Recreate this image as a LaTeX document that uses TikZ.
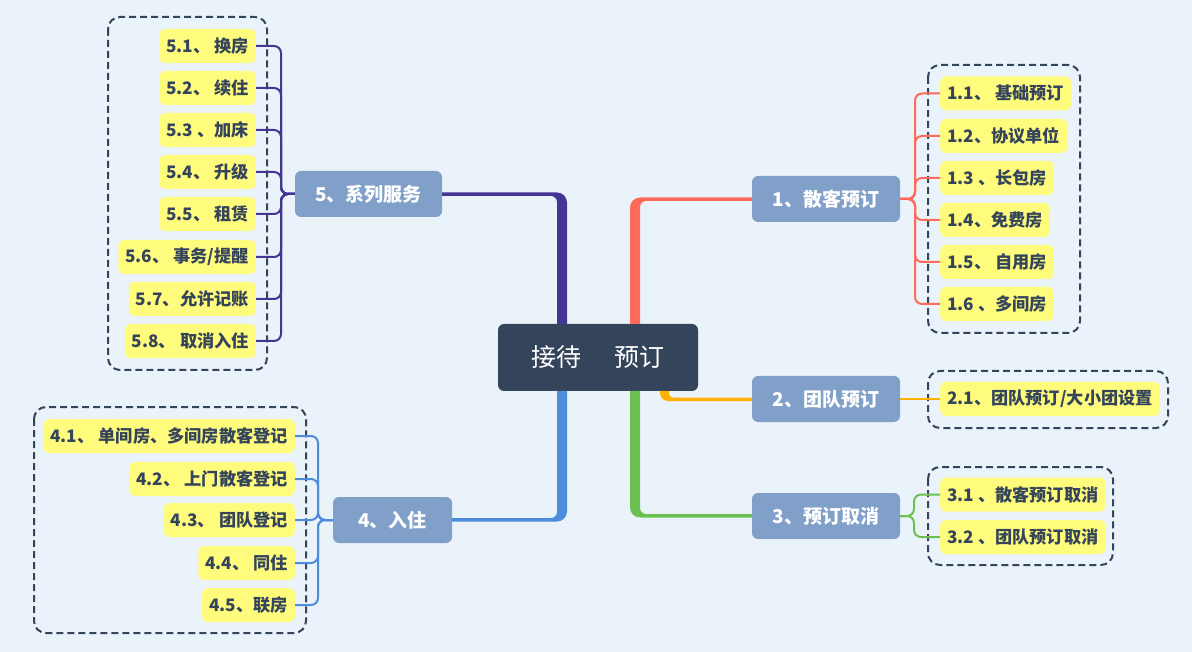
\documentclass[tikz,border=0pt]{standalone}
\usepackage{fontspec}
\setmainfont{Noto Sans CJK SC}
\usetikzlibrary{calc}
\definecolor{bgc}{RGB}{235,243,250}
\definecolor{navy}{RGB}{52,68,90}
\definecolor{mainc}{RGB}{128,160,201}
\definecolor{leafc}{RGB}{255,252,125}
\definecolor{cred}{RGB}{255,106,90}
\definecolor{corange}{RGB}{255,176,0}
\definecolor{cgreen}{RGB}{107,193,79}
\definecolor{cblue}{RGB}{78,141,219}
\definecolor{cpurple}{RGB}{68,53,148}
\tikzset{
  rootbox/.style={fill=navy, rounded corners=6, text=white, minimum width=200, minimum height=67, inner sep=0, font=\fontsize{25}{30}\selectfont},
  mainbox/.style={fill=mainc, rounded corners=6, text=white, minimum height=46, inner sep=0, font=\fontsize{19}{23}\selectfont\bfseries},
  leafbox/.style={fill=leafc, rounded corners=6, text=navy, minimum height=34, inner xsep=7, inner ysep=0, font=\fontsize{17.2}{20}\selectfont\bfseries},
  groupbox/.style={draw=navy, line width=2, dash pattern=on 7 off 4, rounded corners=12},
  sub/.style={line width=2, rounded corners=7},
}
\begin{document}
\begin{tikzpicture}[x=1pt,y=-1pt]
\fill[bgc] (0,0) rectangle (1192,652);
\useasboundingbox (0,0) rectangle (1192,652);

% dashed group frames
\draw[groupbox] (928,65) rectangle (1080,333);
\draw[groupbox] (928,371) rectangle (1168,428);
\draw[groupbox] (928,467) rectangle (1113,565);
\draw[groupbox] (34,407) rectangle (306,633);
\draw[groupbox] (108,17) rectangle (267,370);

% root and main topics
\node[rootbox] (c) at (598,357.5) {接待\hspace{1.3em}预订};
\node[mainbox, minimum width=148] (n1) at (826,199) {1、散客预订};
\node[mainbox, minimum width=148] (n2) at (826,399) {2、团队预订};
\node[mainbox, minimum width=148] (n3) at (826,516) {3、预订取消};
\node[mainbox, minimum width=119] (n4) at (392.5,520) {4、入住};
\node[mainbox, minimum width=147] (n5) at (368.5,194) {5、系列服务};

% leaves group 1
\node[leafbox, anchor=west] (l11) at (940,93.5) {1.1、 基础预订};
\node[leafbox, anchor=west] (l12) at (940,136) {1.2、协议单位};
\node[leafbox, anchor=west] (l13) at (940,178) {1.3 、长包房};
\node[leafbox, anchor=west] (l14) at (940,220) {1.4、免费房};
\node[leafbox, anchor=west] (l15) at (940,262) {1.5、 自用房};
\node[leafbox, anchor=west] (l16) at (940,304) {1.6 、多间房};
% group 2
\node[leafbox, anchor=west] (l21) at (940,399) {2.1、团队预订/大小团设置};
% group 3
\node[leafbox, anchor=west] (l31) at (940,494.5) {3.1 、散客预订取消};
\node[leafbox, anchor=west] (l32) at (940,537) {3.2 、团队预订取消};
% group 4
\node[leafbox, anchor=east] (l41) at (295,436) {4.1、 单间房、多间房散客登记};
\node[leafbox, anchor=east] (l42) at (295,479) {4.2、 上门散客登记};
\node[leafbox, anchor=east] (l43) at (295,520) {4.3、 团队登记};
\node[leafbox, anchor=east] (l44) at (295,563) {4.4、 同住};
\node[leafbox, anchor=east] (l45) at (295,605) {4.5、联房};
% group 5
\node[leafbox, anchor=east] (l51) at (256,46) {5.1、 换房};
\node[leafbox, anchor=east] (l52) at (256,88) {5.2、 续住};
\node[leafbox, anchor=east] (l53) at (256,130) {5.3 、加床};
\node[leafbox, anchor=east] (l54) at (256,172) {5.4、 升级};
\node[leafbox, anchor=east] (l55) at (256,214) {5.5、 租赁};
\node[leafbox, anchor=east] (l56) at (256,257) {5.6、 事务/提醒};
\node[leafbox, anchor=east] (l57) at (256,299) {5.7、允许记账};
\node[leafbox, anchor=east] (l58) at (256,341) {5.8、 取消入住};

% tapered main branches
\fill[cred] (630,324) -- (630,207.5) arc[start angle=180,end angle=270,radius=10] -- (752,197.5) -- (752,201) -- (646,201) arc[start angle=270,end angle=180,radius=6] -- (640,324) -- cycle;
\fill[corange] (660,391) -- (660,393) arc[start angle=180,end angle=90,radius=8] -- (752,401) -- (752,397.5) -- (673,397.5) arc[start angle=90,end angle=180,radius=4] -- (669,391) -- cycle;
\fill[cgreen] (630,391) -- (630,507.5) arc[start angle=180,end angle=90,radius=10] -- (752,517.5) -- (752,514) -- (646,514) arc[start angle=90,end angle=180,radius=6] -- (640,391) -- cycle;
\fill[cpurple] (567,324) -- (567,202.5) arc[start angle=0,end angle=-90,radius=10] -- (442,192.5) -- (442,196) -- (551,196) arc[start angle=270,end angle=360,radius=6] -- (557,324) -- cycle;
\fill[cblue] (567,391) -- (567,511.5) arc[start angle=0,end angle=90,radius=10] -- (452,521.5) -- (452,518) -- (551,518) arc[start angle=90,end angle=0,radius=6] -- (557,391) -- cycle;

% sub-branches
\foreach \l in {l11,l12,l13,l14,l15,l16}
  \draw[sub, cred] (n1.east) -- (n1.east -| 915,0) |- (\l.west);
\draw[sub, corange] (n2.east) -- (l21.west);
\foreach \l in {l31,l32}
  \draw[sub, cgreen] (n3.east) -- (n3.east -| 914,0) |- (\l.west);
\foreach \l in {l41,l42,l43,l44,l45}
  \draw[sub, cblue] (n4.west) -- (n4.west -| 318,0) |- (\l.east);
\foreach \l in {l51,l52,l53,l54,l55,l56,l57,l58}
  \draw[sub, cpurple] (n5.west) -- (n5.west -| 281,0) |- (\l.east);
\end{tikzpicture}
\end{document}
